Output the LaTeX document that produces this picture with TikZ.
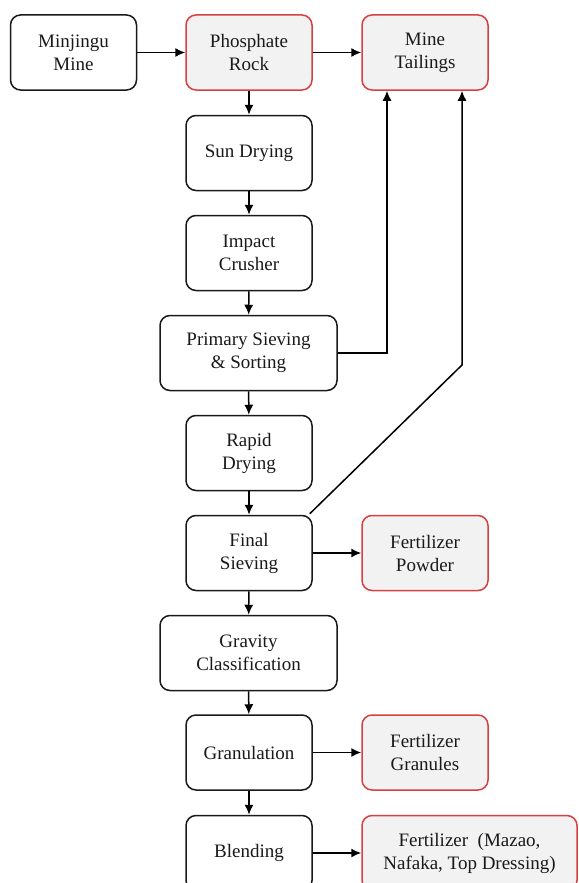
\documentclass[tikz,border=0pt]{standalone}
\usepackage{fontspec}
\setmainfont{Liberation Serif}
\usetikzlibrary{arrows.meta}
\definecolor{outred}{RGB}{214,64,64}
\definecolor{outgray}{RGB}{242,242,242}
\begin{document}
\begin{tikzpicture}[x=1pt, y=-1pt,
  every node/.style = {align=center, text=black!90,
    font=\fontsize{19}{23}\selectfont},
  stage/.style = {draw=black!90, rounded corners=10pt, line width=1.5pt,
    minimum width=126pt, minimum height=75pt, inner sep=2pt},
  widestage/.style = {stage, minimum width=177pt},
  product/.style = {stage, draw=outred, fill=outgray},
  flow/.style = {draw, line width=1.5pt, -{Latex[length=10pt,width=9pt]}}]
  \useasboundingbox (0,0) rectangle (578,883);
  \node [stage] (mine) at (73.5,52.5) {Minjingu\\Mine};
  \node [product] (rock) at (249,52.5) {Phosphate\\Rock};
  \node [product] (tail) at (425,52.5) {Mine\\Tailings};
  \node [stage] (sun) at (249,153) {Sun Drying};
  \node [stage] (crush) at (249,253) {Impact\\Crusher};
  \node [widestage] (sieve) at (248.5,353) {Primary Sieving\\\& Sorting};
  \node [stage] (rapid) at (249,453) {Rapid\\Drying};
  \node [stage] (final) at (249,553) {Final\\Sieving};
  \node [product] (powder) at (425,553) {Fertilizer\\Powder};
  \node [widestage] (grav) at (248.5,653) {Gravity\\Classification};
  \node [stage] (gran) at (249,752.5) {Granulation};
  \node [product] (granules) at (425,752.5) {Fertilizer\\Granules};
  \node [stage] (blend) at (249,853) {Blending};
  \node [product, minimum width=215pt] (blends) at (469.5,853)
    {Fertilizer\ \ (Mazao,\\Nafaka, Top Dressing)};
  \coordinate (bend) at (462,365);
  % main line
  \path [flow] (mine) -- (rock);
  \path [flow] (rock) -- (tail);
  \path [flow] (rock) -- (sun);
  \path [flow] (sun) -- (crush);
  \path [flow] (crush) -- (sieve);
  \path [flow] (sieve) -- (rapid);
  \path [flow] (rapid) -- (final);
  \path [flow] (final) -- (grav);
  \path [flow] (grav) -- (gran);
  \path [flow] (gran) -- (blend);
  % side outputs
  \path [flow] (final) -- (powder);
  \path [flow] (gran) -- (granules);
  \path [flow] (blend) -- (blends);
  % back to tailings
  \path [flow] (sieve.east) -| ([xshift=-38pt]tail.south);
  \path [flow] ([xshift=-3pt,yshift=1pt]final.north east) -- (bend)
    -- (bend |- tail.south);
\end{tikzpicture}
\end{document}
